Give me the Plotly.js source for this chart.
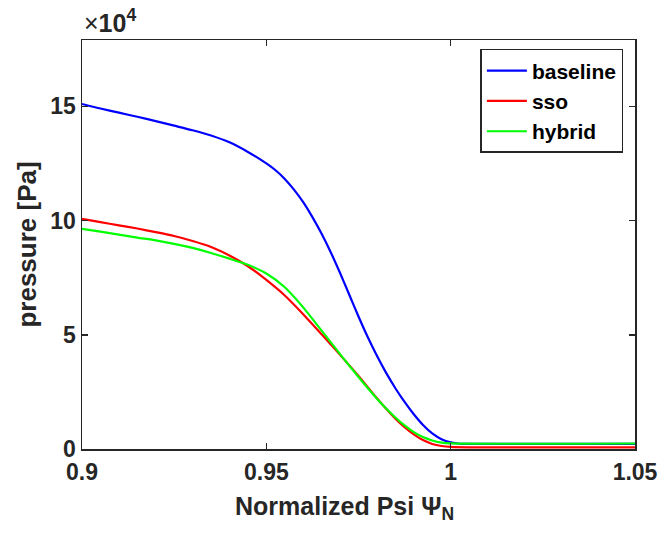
<!DOCTYPE html>
<html>
<head>
<meta charset="utf-8">
<script src="https://cdn.plot.ly/plotly-3.0.1.min.js"></script>
<style>html,body{margin:0;padding:0;background:#fff;}#chart{width:664px;height:535px;}</style>
</head>
<body>
<div id="chart"></div>
<script>
// pressure values in units of 10^4 Pa
const baselinePsi = [0.900, 0.905, 0.910, 0.915, 0.920, 0.925, 0.930, 0.935, 0.940, 0.945, 0.950, 0.9525, 0.955, 0.9575, 0.960, 0.9625, 0.965, 0.9675, 0.970, 0.9725, 0.975, 0.9775, 0.980, 0.9825, 0.985, 0.9875, 0.990, 0.9925, 0.995, 0.9975, 1.000, 1.0025, 1.005, 1.050];
const baselineP   = [15.10, 14.90, 14.72, 14.54, 14.35, 14.15, 13.95, 13.72, 13.42, 13.00, 12.50, 12.20, 11.82, 11.35, 10.80, 10.15, 9.42, 8.60, 7.70, 6.75, 5.80, 4.90, 4.08, 3.33, 2.66, 2.06, 1.52, 1.05, 0.68, 0.43, 0.29, 0.23, 0.22, 0.22];

const ssoPsi = [0.900, 0.905, 0.910, 0.915, 0.920, 0.925, 0.930, 0.935, 0.940, 0.945, 0.950, 0.955, 0.960, 0.965, 0.970, 0.975, 0.980, 0.9825, 0.985, 0.9875, 0.990, 0.9925, 0.995, 0.9975, 1.000, 1.005, 1.050];
const ssoP   = [10.07, 9.93, 9.79, 9.65, 9.49, 9.32, 9.10, 8.84, 8.47, 8.00, 7.40, 6.72, 5.90, 5.02, 4.12, 3.20, 2.22, 1.76, 1.33, 0.96, 0.64, 0.39, 0.22, 0.13, 0.09, 0.07, 0.07];

const hybridPsi = [0.900, 0.905, 0.910, 0.915, 0.920, 0.925, 0.930, 0.935, 0.940, 0.945, 0.950, 0.955, 0.960, 0.965, 0.970, 0.975, 0.980, 0.9825, 0.985, 0.9875, 0.990, 0.9925, 0.995, 0.9975, 1.000, 1.050];
const hybridP   = [9.63, 9.51, 9.38, 9.25, 9.13, 8.98, 8.80, 8.58, 8.33, 8.06, 7.68, 7.08, 6.20, 5.18, 4.15, 3.15, 2.20, 1.77, 1.38, 1.03, 0.74, 0.52, 0.37, 0.28, 0.245, 0.24];

const xTicks = [0.9, 0.95, 1, 1.05];
const xTickText = ['0.9', '0.95', '1', '1.05'];
const yTicks = [0, 5, 10, 15];
const yTickText = ['0', '5', '10', '15'];

const FONT = 'Liberation Sans, Arial, Helvetica, sans-serif';
const AX = '#262626';

function lineTrace(x, y, name, color) {
  return {x: x, y: y, name: name, mode: 'lines', line: {color: color, width: 2.2, shape: 'spline', smoothing: 0.6}};
}

const traces = [
  lineTrace(baselinePsi, baselineP, 'baseline', '#0000ff'),
  lineTrace(ssoPsi, ssoP, 'sso', '#ff0000'),
  lineTrace(hybridPsi, hybridP, 'hybrid', '#00ff00')
];

const axisCommon = {
  showgrid: false, zeroline: false, showline: true, mirror: 'ticks',
  linecolor: AX, linewidth: 1.5, ticks: 'inside', ticklen: 6, tickwidth: 1.5, tickcolor: AX,
  tickfont: {family: FONT, size: 23, color: AX, weight: 'bold'}
};

const layout = {
  width: 664, height: 535,
  margin: {l: 81.5, r: 28.5, t: 40, b: 85.5},
  paper_bgcolor: '#ffffff', plot_bgcolor: '#ffffff',
  showlegend: true,
  xaxis: Object.assign({}, axisCommon, {
    range: [0.9, 1.05], tickvals: xTicks, ticktext: xTickText, ticklabelstandoff: 2
  }),
  yaxis: Object.assign({}, axisCommon, {
    range: [0, 17.9], tickvals: yTicks, ticktext: yTickText,
    title: {text: '<b>pressure [Pa]</b>', font: {family: FONT, size: 26, color: AX}, standoff: 6}
  }),
  legend: {
    x: 0.979, y: 0.978, xanchor: 'right', yanchor: 'top',
    bgcolor: '#ffffff', bordercolor: AX, borderwidth: 1.5,
    font: {family: FONT, size: 21, color: '#000000', weight: 'bold'},
    itemwidth: 40, tracegroupgap: 0
  },
  annotations: [
    {
      xref: 'paper', yref: 'paper', x: 0, y: 1, xanchor: 'left', yanchor: 'bottom', yshift: 1,
      text: '×<b>10<sup>4</sup></b>', showarrow: false,
      font: {family: FONT, size: 25, color: AX}
    },
    {
      xref: 'paper', yref: 'paper', x: 0.474, y: -0.1, xanchor: 'center', yanchor: 'top',
      text: '<b>Normalized Psi Ψ<sub>N</sub></b>', showarrow: false,
      font: {family: FONT, size: 25, color: AX}
    }
  ]
};

Plotly.newPlot('chart', traces, layout, {displayModeBar: false, staticPlot: true});
</script>
</body>
</html>
